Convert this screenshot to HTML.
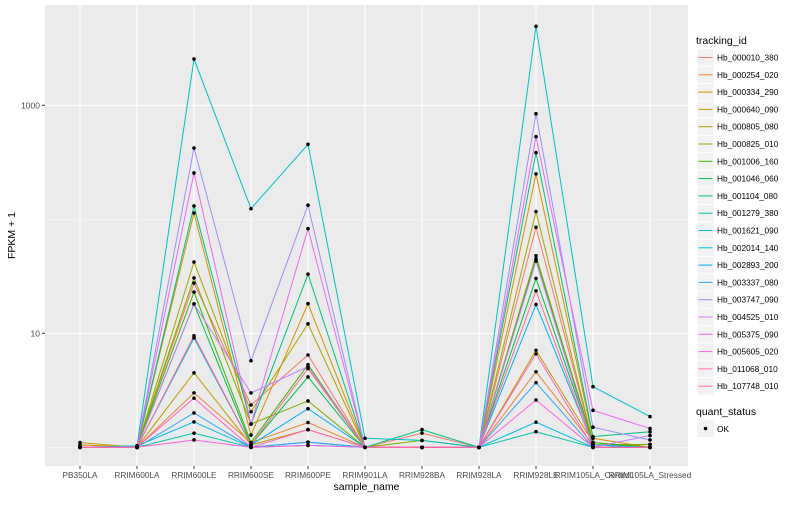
<!DOCTYPE html>
<html><head><meta charset="utf-8"><style>
body{margin:0;background:#fff;font-family:"Liberation Sans",sans-serif}
svg text{font-family:"Liberation Sans",sans-serif}
</style></head><body>
<svg id="c" width="800" height="500" xmlns="http://www.w3.org/2000/svg"></svg>
<script>
const categories=["PB350LA","RRIM600LA","RRIM600LE","RRIM600SE","RRIM600PE","RRIM901LA","RRIM928BA","RRIM928LA","RRIM928LE","RRIM105LA_Control","RRIM105LA_Stressed"];
const seriesNames=["Hb_000010_380","Hb_000254_020","Hb_000334_290","Hb_000640_090","Hb_000805_080","Hb_000825_010","Hb_001006_160","Hb_001046_060","Hb_001104_080","Hb_001279_380","Hb_001621_090","Hb_002014_140","Hb_002893_200","Hb_003337_080","Hb_003747_090","Hb_004525_010","Hb_005375_090","Hb_005605_020","Hb_011068_010","Hb_107748_010"];
const seriesColors=["#F8766D","#EA8331","#D89000","#C09B00","#A3A500","#7CAE00","#39B600","#00BB4E","#00BF7D","#00C1A3","#00BFC4","#00BAE0","#00B0F6","#35A2FF","#9590FF","#C77CFF","#E76BF3","#FA62DB","#FF62BC","#FF6C91"];
const s0=[1,1,27.6,2.35,6.45,1,1.33,1,85,1.1,1];
const s1=[1,1,3.0,1.1,1.65,1,1,1,4.6,1.05,1.06];
const s2=[1.05,1,113.5,1.28,18.2,1,1,1,250,1.2,1];
const s3=[1.1,1,4.5,1.05,1.43,1,1,1,7.1,1.1,1];
const s4=[1,1,42.2,2.05,12.1,1,1,1,117,1.1,1];
const s5=[1,1,30.6,1.6,2.55,1,1.15,1,48,1.05,1.06];
const s6=[1,1,23,1.1,5.3,1,1,1,45,1.1,1];
const s7=[1,1,18.1,1.05,4.14,1,1,1,30.3,1.05,1];
const s8=[1,1,131,1.6,33,1,1.43,1,384,1.24,1.37];
const s9=[1,1,1.33,1,1.04,1,1,1,1.37,1,1];
const s10=[1,1.03,2547,124,455,1.2,1.15,1,4930,3.4,1.86];
const s11=[1,1.03,1.67,1,1.11,1,1,1,1.66,1,1];
const s12=[1,1,9.1,1.05,2.18,1,1,1,17.9,1.05,1];
const s13=[1,1,2.0,1,1.11,1,1,1,3.69,1,1];
const s14=[1,1,422,5.75,133,1,1,1,844,1.5,1.16];
const s15=[1,1,18.1,3.0,5.1,1,1,1,43,1,1.27];
const s16=[1,1,255,1.6,82.7,1,1,1,531,2.11,1.46];
const s17=[1,1,1.16,1,1.04,1,1,1,2.6,1,1];
const s18=[1,1,2.7,1,1.43,1,1,1,6.6,1,1];
const s19=[1,1,9.5,1.05,4.9,1,1,1,23.6,1,1];
const seriesValues=[s0,s1,s2,s3,s4,s5,s6,s7,s8,s9,s10,s11,s12,s13,s14,s15,s16,s17,s18,s19];
const yTicks=[10,1000];
const yMinor=[1,100];

const NS="http://www.w3.org/2000/svg";
const svg=document.getElementById('c');
const L=45,R=688,T=5,B=466;
const xs=i=>L+35+i*((R-L-73)/(categories.length-1));
const ys=v=>333.3-114*(Math.log10(v)-1);
function mk(t,a,p){const e=document.createElementNS(NS,t);for(const k in a)e.setAttribute(k,a[k]);(p||svg).appendChild(e);return e;}
const panel=mk('rect',{x:L,y:T,width:R-L,height:B-T,fill:'#EBEBEB'});


yMinor.forEach(v=>{const l=mk('line',{x1:L,x2:R,y1:ys(v),y2:ys(v),stroke:'#fff','stroke-width':0.5});

});
yTicks.forEach(v=>{const l=mk('line',{x1:L,x2:R,y1:ys(v),y2:ys(v),stroke:'#fff','stroke-width':1.1});


mk('line',{x1:L-3,x2:L,y1:ys(v),y2:ys(v),stroke:'#333','stroke-width':1});
const t=mk('text',{x:L-5,y:ys(v)+3,'text-anchor':'end','font-size':8.5,fill:'#4D4D4D'});t.textContent=v;

});
categories.forEach((c,i)=>{const l=mk('line',{x1:xs(i),x2:xs(i),y1:T,y2:B,stroke:'#fff','stroke-width':1.1});


mk('line',{x1:xs(i),x2:xs(i),y1:B,y2:B+3,stroke:'#333','stroke-width':1});
const t=mk('text',{x:xs(i),y:B+12,'text-anchor':'middle','font-size':8.3,fill:'#4D4D4D'});t.textContent=c;

});
seriesValues.forEach((vals,si)=>{const p=mk('polyline',{points:vals.map((v,i)=>xs(i)+','+ys(v)).join(' '),fill:'none',stroke:seriesColors[si],'stroke-width':1});

});
seriesValues.forEach((vals,si)=>{vals.forEach((v,i)=>{const d=mk('circle',{cx:xs(i),cy:ys(v),r:1.8,fill:'#000'});

});});
const xt=mk('text',{x:(L+R)/2,y:490,'text-anchor':'middle','font-size':10.5,fill:'#000'});xt.textContent='sample_name';


const yt=mk('text',{x:15,y:(T+B)/2,'text-anchor':'middle','font-size':10.5,fill:'#000',transform:'rotate(-90 15 '+(T+B)/2+')'});yt.textContent='FPKM + 1';


const lt=mk('text',{x:696,y:44,'font-size':10.5,fill:'#000'});lt.textContent='tracking_id';


seriesNames.forEach((n,i)=>{const y=49+i*17.3;
const g=mk('g',{});


mk('rect',{x:697,y:y,width:17,height:17,fill:'#F2F2F2',stroke:'#fff','stroke-width':0.5},g);
mk('line',{x1:698.5,x2:712.5,y1:y+8.5,y2:y+8.5,stroke:seriesColors[i],'stroke-width':1},g);
const t=mk('text',{x:717,y:y+11.5,'font-size':8.3,fill:'#000'},g);t.textContent=n;});
const qt=mk('text',{x:696,y:415,'font-size':10.5,fill:'#000'});qt.textContent='quant_status';


const qg=mk('g',{});


mk('rect',{x:697,y:420,width:17,height:17,fill:'#F2F2F2'},qg);
mk('circle',{cx:705.5,cy:428.5,r:1.8,fill:'#000'},qg);
const ok=mk('text',{x:717,y:432,'font-size':8.3,fill:'#000'},qg);ok.textContent='OK';
</script>
</body></html>
